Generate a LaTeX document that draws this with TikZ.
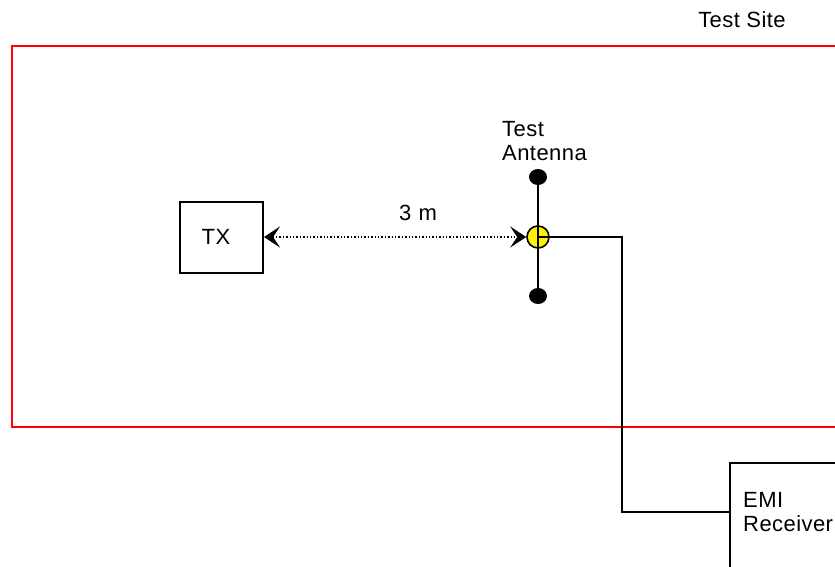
\documentclass[tikz,border=0pt]{standalone}
\usepackage{fontspec}
\setmainfont{Liberation Sans}[LetterSpace=2]
\usetikzlibrary{arrows.meta}
\tikzset{mytip/.tip={Stealth[length=16pt,width=21pt,inset=7pt]}}
\begin{document}
\begin{tikzpicture}[x=1pt,y=-1pt,
  lbl/.style={font=\fontsize{22}{24}\selectfont, inner sep=0pt, align=left},
  box/.style={draw=black, line width=1.6pt},
  wire/.style={draw=black, line width=1.6pt}]
\useasboundingbox (0,0) rectangle (835,567);
\clip (0,0) rectangle (835,567);
% test site
\draw[red, line width=1.6pt] (12,46) rectangle (850,427);
\node[lbl] (site) at (742,20) {Test Site};
% TX
\draw[box] (180,202) rectangle (263,273);
\coordinate (txr) at (264,237);
\node[lbl] (tx) at (216,237) {TX};
% antenna
\coordinate (top) at (538,177);
\coordinate (bot) at (538,296);
\draw[wire] (top) -- (bot);
\fill (top) ellipse (9 and 8);
\fill (bot) ellipse (9 and 8);
\node[circle, draw=black, fill=yellow, line width=1.6pt, minimum size=22pt, inner sep=0pt] (ant) at (538,237) {};
\draw[wire] (538,226) -- (538,248);
\node[lbl, anchor=west] (antl) at (502,141) {Test\\Antenna};
% dotted arrow
\draw[dotted, line width=1.4pt, {mytip}-{mytip}] (txr) -- (ant.west);
\node[lbl] (dist) at (418,213) {3\,\,m};
% EMI receiver
\draw[box] (730,463) rectangle (850,580);
\coordinate (emi) at (730,512);
\node[lbl, anchor=west] (emil) at (743,512) {EMI\\Receiver};
\draw[wire] (ant.center) -- (622,237) -- (622,512) -- (emi);
\end{tikzpicture}
\end{document}
